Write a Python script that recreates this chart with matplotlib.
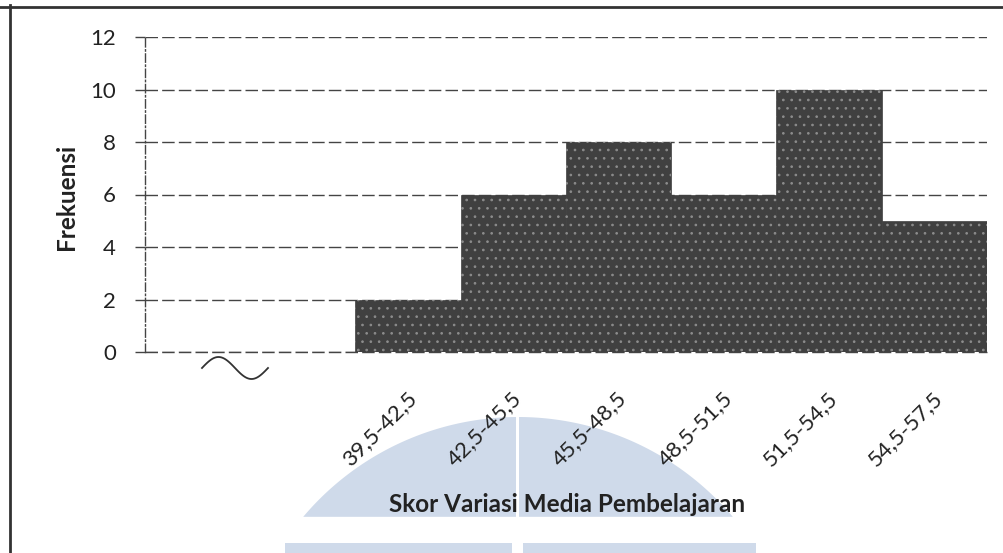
import numpy as np
import matplotlib
matplotlib.use("Agg")
import matplotlib.pyplot as plt
from matplotlib.patches import Polygon, Rectangle
from matplotlib.lines import Line2D
from matplotlib.transforms import blended_transform_factory, ScaledTranslation

# Frequency table for the class intervals
classes = ["39,5-42,5", "42,5-45,5", "45,5-48,5", "48,5-51,5", "51,5-54,5", "54,5-57,5"]
frekuensi = [2, 6, 8, 6, 10, 5]
yticks = [0, 2, 4, 6, 8, 10, 12]

W, H = 1004, 553
plt.rcParams["font.family"] = ["Lato", "DejaVu Sans"]
plt.rcParams["hatch.linewidth"] = 0.7

fig = plt.figure(figsize=(W / 100, H / 100), dpi=100)
fig.patch.set_facecolor("white")

def px(x, y):
    """pixel (from top-left) -> figure fraction"""
    return x / W, 1 - y / H

# pale blue emblem behind the lower part of the chart
cx, cy, R = 518, 698, 281
th = np.linspace(0, np.pi, 400)
ex = cx + R * np.cos(th)
ey = cy - R * np.sin(th)
keep = ey <= 517
seg = np.column_stack([ex[keep], ey[keep]])
fseg = np.array([px(a, b) for a, b in seg])
fig.patches.append(Polygon(fseg, closed=True, transform=fig.transFigure,
                           facecolor="#cfdaea", edgecolor="none", zorder=-5))
for x0, x1 in [(285, 512), (523, 756)]:
    a = px(x0, 553)
    fig.patches.append(Rectangle(a, (x1 - x0) / W, 10 / H, transform=fig.transFigure,
                                 facecolor="#cfdaea", edgecolor="none", zorder=-5))
fig.patches.append(Rectangle(px(516, 553), 3 / W, 140 / H, transform=fig.transFigure,
                             facecolor="white", edgecolor="none", zorder=-4))

# chart-area border (left and top edges)
fig.lines.append(Line2D([10 / W, 10 / W], [0, 1 - 5 / H], transform=fig.transFigure,
                        color="#333333", lw=2))
fig.lines.append(Line2D([0, 1], [1 - 7 / H, 1 - 7 / H], transform=fig.transFigure,
                        color="#333333", lw=2))

ax = fig.add_axes([145 / W, 1 - 352 / H, (987 - 145) / W, (352 - 37) / H])
ax.set_facecolor("none")

x = np.arange(len(classes))
ax.bar(x, frekuensi, width=1.0, color="#404040", edgecolor="#404040",
       linewidth=0.5, zorder=3)
# grainy texture on the bars
ax.bar(x, frekuensi, width=1.0, color="none", edgecolor="#8c8c8c",
       linewidth=0, hatch="..", zorder=4)

ax.set_xlim(-2.5, len(classes) - 0.5)
ax.set_ylim(0, 12)
ax.set_yticks(yticks)
ax.set_yticklabels([str(v) for v in yticks], fontsize=16, color="#222222")
ax.tick_params(axis="y", length=7, width=1, color="#444444", pad=14)
ax.set_xticks([])

for spine in ("top", "right", "bottom"):
    ax.spines[spine].set_visible(False)
ax.spines["left"].set_linestyle((0, (6, 2, 1, 2)))
ax.spines["left"].set_color("#444444")
ax.spines["left"].set_linewidth(1)

ax.yaxis.grid(True, color="#444444", linewidth=1, linestyle=(0, (9, 3)), zorder=0)
ax.set_axisbelow(True)
ax.axhline(0, color="#444444", lw=1, ls=(0, (9, 3)), zorder=1, clip_on=False)

# rotated category labels
trans = blended_transform_factory(ax.transData, ax.transAxes) + \
    ScaledTranslation(5 / 100, -43 / 100, fig.dpi_scale_trans)
for xi, lab in zip(x, classes):
    ax.text(xi, 0, lab, transform=trans, rotation=45, rotation_mode="anchor",
            ha="right", va="center", fontsize=16, color="#222222")

# axis-break squiggle left of the first class
sx = np.linspace(202, 268, 80)
sy = 368 - 11 * np.sin((sx - 202) / 66 * 2 * np.pi)
fig.lines.append(Line2D(sx / W, 1 - sy / H, transform=fig.transFigure,
                        color="#333333", lw=1.3))

fig.text(*px(567, 505), "Skor Variasi Media Pembelajaran", ha="center", va="center",
         fontsize=17.5, fontweight="bold", color="#222222")
fig.text(*px(67, 197), "Frekuensi", ha="center", va="center", rotation=90,
         fontsize=17.5, fontweight="bold", color="#222222")

fig.savefig("out.png", dpi=100)
